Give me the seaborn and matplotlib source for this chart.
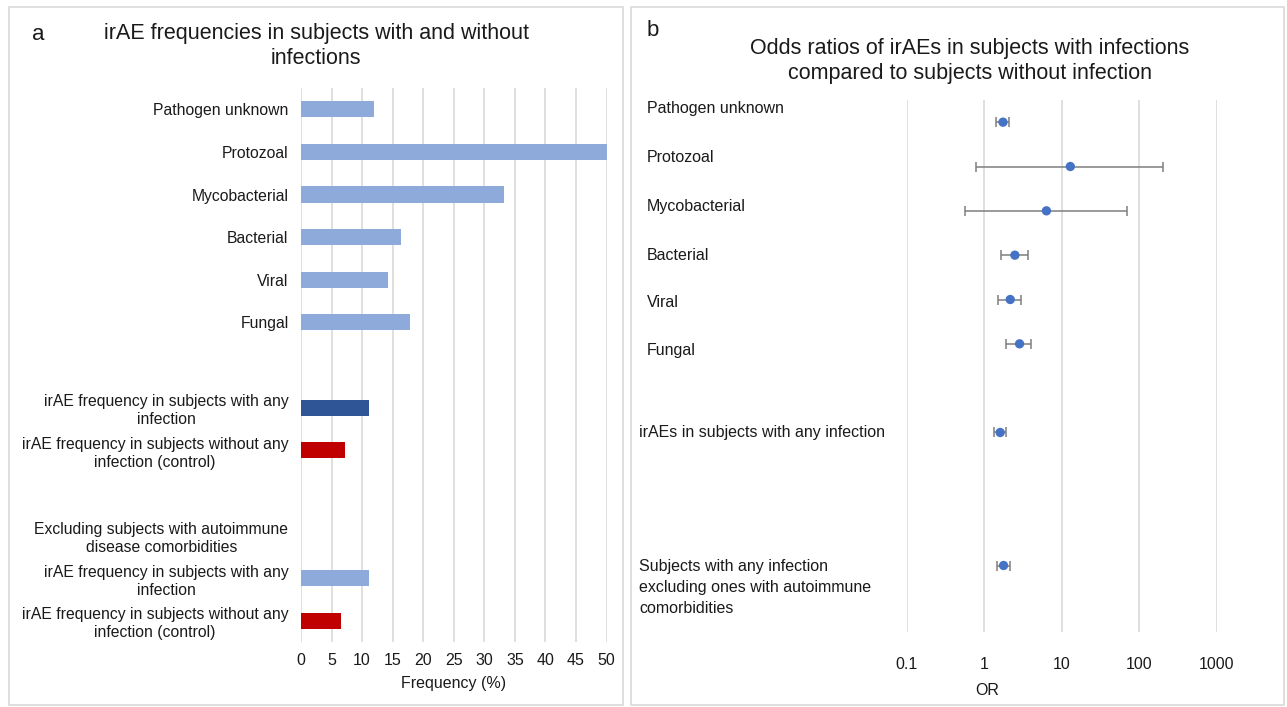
import matplotlib
matplotlib.use("Agg")
import matplotlib.pyplot as plt
import seaborn as sns
import pandas as pd
import numpy as np
from matplotlib.patches import Rectangle

# ---------------- data ----------------
freq_labels = [
    "Pathogen unknown", "Protozoal", "Mycobacterial", "Bacterial", "Viral", "Fungal",
    "",
    "irAE frequency in subjects with any\ninfection",
    "irAE frequency in subjects without any\ninfection (control)",
    "",
    "Excluding subjects with autoimmune\ndisease comorbidities",
    "irAE frequency in subjects with any\ninfection",
    "irAE frequency in subjects without any\ninfection (control)",
]
freq_values = [12.0, 50.0, 33.3, 16.3, 14.3, 17.9, 0, 11.2, 7.2, 0, 0, 11.1, 6.5]
freq_groups = ["type", "type", "type", "type", "type", "type", "none",
               "any", "control", "none", "none", "type", "control"]
freq_ticks = [0, 5, 10, 15, 20, 25, 30, 35, 40, 45, 50]

or_labels = ["Pathogen unknown", "Protozoal", "Mycobacterial", "Bacterial", "Viral", "Fungal",
             "irAEs in subjects with any infection",
             "Subjects with any infection\nexcluding ones with autoimmune\ncomorbidities"]
or_values = [1.75, 12.9, 6.35, 2.49, 2.17, 2.86, 1.61, 1.78]
or_low = [1.42, 0.79, 0.57, 1.67, 1.49, 1.91, 1.35, 1.45]
or_high = [2.09, 202, 69, 3.67, 2.96, 4.0, 1.94, 2.14]
or_ticks = [0.1, 1, 10, 100, 1000]
or_ticklabels = ["0.1", "1", "10", "100", "1000"]

# ---------------- style ----------------
sns.set_theme(style="white")
plt.rcParams["font.family"] = ["Liberation Sans", "DejaVu Sans"]
TXT = "#1a1a1a"
GRID = "#d9d9d9"
palette = {"type": "#8eaadb", "any": "#2f5597", "control": "#c00000", "none": "#ffffff"}
FS = 11.5

fig = plt.figure(figsize=(12.87, 7.07), dpi=100)
W, H = 1287, 707

def ax_rect(x0, y0, x1, y1):
    return [x0 / W, 1 - y1 / H, (x1 - x0) / W, (y1 - y0) / H]

# panel borders
for (x0, y0, x1, y1) in [(9, 7, 623, 705), (631, 7, 1284, 705)]:
    fig.patches.append(Rectangle((x0 / W, 1 - y1 / H), (x1 - x0) / W, (y1 - y0) / H,
                                 transform=fig.transFigure, fill=False,
                                 edgecolor="#d9d9d9", linewidth=1.2))

# ---------------- panel a ----------------
ax1 = fig.add_axes(ax_rect(301, 88, 606.5, 642))
df = pd.DataFrame({"key": [str(i) for i in range(len(freq_values))],
                   "value": freq_values, "group": freq_groups})
sns.barplot(data=df, x="value", y="key", hue="group", palette=palette, orient="h",
            width=0.38, dodge=False, legend=False, linewidth=0, saturation=1,
            ax=ax1, zorder=3)
ax1.set_xlim(0, 50)
ax1.set_ylim(len(freq_values) - 0.5, -0.5)
ax1.set_xticks(freq_ticks)
ax1.set_xticklabels([str(t) for t in freq_ticks])
ax1.set_yticks(range(len(freq_labels)))
ax1.set_yticklabels(freq_labels, multialignment="center", linespacing=1.25)
ax1.tick_params(axis="y", length=0, pad=9, labelsize=11.3, labelcolor=TXT)
ax1.tick_params(axis="x", length=0, pad=8, labelsize=FS, labelcolor=TXT)
ax1.xaxis.grid(True, color=GRID, linewidth=1.2, zorder=0)
ax1.set_axisbelow(True)
for s in ax1.spines.values():
    s.set_visible(False)
ax1.set_ylabel("")
ax1.set_xlabel("Frequency (%)", fontsize=FS, color=TXT, labelpad=6)
fig.text(316 / W, 1 - 46 / H, "irAE frequencies in subjects with and without\ninfections",
         ha="center", va="center", fontsize=15.5, color=TXT, linespacing=1.3)
fig.text(32 / W, 1 - 34 / H, "a", ha="left", va="center", fontsize=16, color=TXT)

# ---------------- panel b ----------------
ax2 = fig.add_axes(ax_rect(906.5, 100, 1217, 632))
rows = [0.5, 1.5, 2.5, 3.5, 4.5, 5.5, 7.5, 10.5]
or_df = pd.DataFrame({"OR": or_values, "row": rows})
vals = np.array(or_values)
err = np.vstack([vals - np.array(or_low), np.array(or_high) - vals])
ax2.errorbar(or_values, rows, xerr=err, fmt="none", ecolor="#7f7f7f", elinewidth=1.1,
             capsize=3.5, capthick=1.1, zorder=3)
sns.scatterplot(data=or_df, x="OR", y="row", color="#4472c4", s=45, edgecolor="none",
                ax=ax2, zorder=4)
ax2.set_xscale("log")
ax2.set_xlim(0.1, 1000)
ax2.set_ylim(12, 0)
ax2.set_xticks(or_ticks)
ax2.set_xticklabels(or_ticklabels)
ax2.minorticks_off()
ax2.set_yticks([])
ax2.tick_params(axis="x", length=0, pad=18, labelsize=FS, labelcolor=TXT)
ax2.xaxis.grid(True, color=GRID, linewidth=1.2, zorder=0)
ax2.set_axisbelow(True)
for s in ax2.spines.values():
    s.set_visible(False)
ax2.set_ylabel("")
ax2.set_xlabel("OR", fontsize=FS, color=TXT)
ax2.xaxis.set_label_coords((987 - 906.5) / 310.5, -0.095)

label_y_offsets = [-0.3, -0.2, -0.1, 0.0, 0.06, 0.14, 0.0, 0.5]
label_x = [647, 647, 647, 647, 647, 647, 639, 639]
for lab, r, dy, lx in zip(or_labels, rows, label_y_offsets, label_x):
    ax2.text((lx - 906.5) / 310.5, r + dy, lab, transform=ax2.get_yaxis_transform(),
             ha="left", va="center", fontsize=FS, color=TXT, linespacing=1.5)

fig.text(970 / W, 1 - 61 / H,
         "Odds ratios of irAEs in subjects with infections\ncompared to subjects without infection",
         ha="center", va="center", fontsize=15.5, color=TXT, linespacing=1.3)
fig.text(647 / W, 1 - 30 / H, "b", ha="left", va="center", fontsize=16, color=TXT)

fig.savefig("out.png", dpi=100, facecolor="white")
